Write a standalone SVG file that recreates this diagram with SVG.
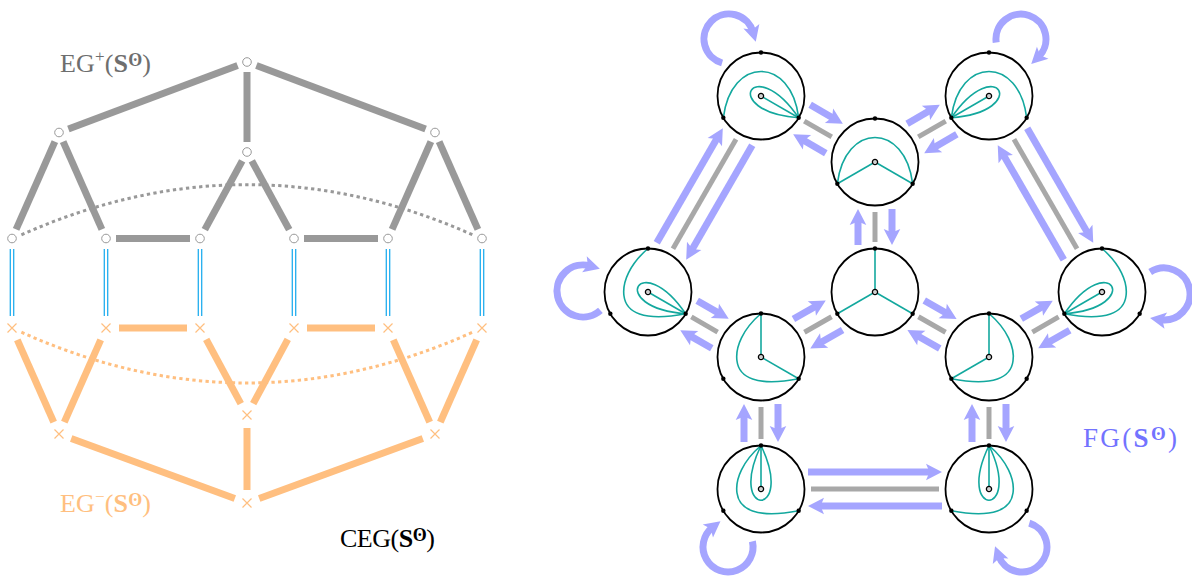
<svg xmlns="http://www.w3.org/2000/svg" width="1192" height="579" viewBox="0 0 1192 579">
<style>
.ge{stroke:#999;stroke-width:7;fill:none}
.oe{stroke:#FFBF80;stroke-width:7;fill:none}
.gd{stroke:#999;stroke-width:3;stroke-dasharray:3.3 3.3;fill:none}
.od{stroke:#FFBF80;stroke-width:3;stroke-dasharray:3.3 3.3;fill:none}
.dl{stroke:#22AEEF;stroke-width:1.3}
.on{fill:#fff;stroke:#999;stroke-width:1}
.xn{stroke:#FFBF80;stroke-width:1.2;fill:none}
.ring{fill:#fff;stroke:#000;stroke-width:1.8}
.tl{fill:none;stroke:#13A89E;stroke-width:1.6}
.pt{fill:#000}
.ctr{fill:#d0d0d0;stroke:#000;stroke-width:1.3}
.gr{stroke:#A8A8A8;stroke-width:5}
.bl{stroke:#A5A5FF;stroke-width:7;fill:none;marker-end:url(#ah)}
.lbl{font-family:"Liberation Serif","DejaVu Serif",serif;font-size:26px}
</style>
<defs>
<marker id="ah" markerUnits="userSpaceOnUse" markerWidth="30" markerHeight="30" refX="0" refY="0" orient="auto" overflow="visible">
<path d="M10,0 L-6,-8.3 L-2.5,0 L-6,8.3 Z" fill="#A5A5FF"/>
</marker>
<path id="arcTop" d="M-37.67,21.75 C-30,-40 30,-40 37.67,21.75" fill="none" stroke="#13A89E" stroke-width="1.6"/>
<path id="loop" d="M0,0 C73,-35 73,35 0,0" fill="none" stroke="#13A89E" stroke-width="1.6"/>
<path id="curveL" d="M0,-43.5 C-18,-28 -26,-10 -24,4 C-22,20 -5,30 37.67,21.75" fill="none" stroke="#13A89E" stroke-width="1.6"/>
<path id="curveR" d="M0,-43.5 C18,-28 26,-10 24,4 C22,20 5,30 -37.67,21.75" fill="none" stroke="#13A89E" stroke-width="1.6"/>
<path id="segT" d="M0,0 L0,-43.5" fill="none" stroke="#13A89E" stroke-width="1.6"/>
<path id="segLL" d="M0,0 L-37.67,21.75" fill="none" stroke="#13A89E" stroke-width="1.6"/>
<path id="segLR" d="M0,0 L37.67,21.75" fill="none" stroke="#13A89E" stroke-width="1.6"/>
<g id="pts">
<circle cx="0" cy="-43.5" r="2.2" fill="#000"/>
<circle cx="-37.67" cy="21.75" r="2.2" fill="#000"/>
<circle cx="37.67" cy="21.75" r="2.2" fill="#000"/>
</g>
<path id="cross" d="M-4.5,-4.5 L4.5,4.5 M-4.5,4.5 L4.5,-4.5" fill="none" stroke="#FFBF80" stroke-width="1.2"/>
</defs>

<!-- ===== Left: CEG connectors ===== -->
<g id="ceg-connectors">
<path class="gd" d="M21.4,234.8 Q247,134.5 472.6,234.8"/>
<path class="od" d="M21.4,332.2 Q247,433.7 472.6,332.2"/>
<line class="ge" x1="237.6" y1="65.5" x2="68.4" y2="129"/>
<line class="ge" x1="256.4" y1="65.5" x2="425.6" y2="129"/>
<line class="ge" x1="247" y1="72" x2="247" y2="142"/>
<line class="ge" x1="54.9" y1="141.6" x2="16.1" y2="229.4"/>
<line class="ge" x1="63.1" y1="141.6" x2="101.9" y2="229.4"/>
<line class="ge" x1="242.2" y1="160.8" x2="204.8" y2="229.7"/>
<line class="ge" x1="251.8" y1="160.8" x2="289.2" y2="229.7"/>
<line class="ge" x1="430.9" y1="141.6" x2="392.1" y2="229.4"/>
<line class="ge" x1="439.1" y1="141.6" x2="477.9" y2="229.4"/>
<line class="ge" x1="116" y1="238.5" x2="190" y2="238.5"/>
<line class="ge" x1="304" y1="238.5" x2="378" y2="238.5"/>
<line class="oe" x1="17.3" y1="339.9" x2="53.7" y2="422.1"/>
<line class="oe" x1="100.7" y1="339.9" x2="64.3" y2="422.1"/>
<line class="oe" x1="206.2" y1="339.4" x2="240.8" y2="403.6"/>
<line class="oe" x1="287.8" y1="339.4" x2="253.2" y2="403.6"/>
<line class="oe" x1="393.3" y1="339.9" x2="429.7" y2="422.1"/>
<line class="oe" x1="476.7" y1="339.9" x2="440.3" y2="422.1"/>
<line class="oe" x1="119" y1="328" x2="187" y2="328"/>
<line class="oe" x1="307" y1="328" x2="375" y2="328"/>
<line class="oe" x1="71.2" y1="438.5" x2="234.8" y2="498.5"/>
<line class="oe" x1="422.8" y1="438.5" x2="259.2" y2="498.5"/>
<line class="oe" x1="247" y1="428" x2="247" y2="490"/>
<g id="double-lines">
<line class="dl" x1="10.3" y1="249" x2="10.3" y2="316"/><line class="dl" x1="13.7" y1="249" x2="13.7" y2="316"/>
<line class="dl" x1="104.3" y1="249" x2="104.3" y2="316"/><line class="dl" x1="107.7" y1="249" x2="107.7" y2="316"/>
<line class="dl" x1="198.3" y1="249" x2="198.3" y2="316"/><line class="dl" x1="201.7" y1="249" x2="201.7" y2="316"/>
<line class="dl" x1="292.3" y1="249" x2="292.3" y2="316"/><line class="dl" x1="295.7" y1="249" x2="295.7" y2="316"/>
<line class="dl" x1="386.3" y1="249" x2="386.3" y2="316"/><line class="dl" x1="389.7" y1="249" x2="389.7" y2="316"/>
<line class="dl" x1="480.3" y1="249" x2="480.3" y2="316"/><line class="dl" x1="483.7" y1="249" x2="483.7" y2="316"/>
</g>
</g>

<!-- ===== Left: nodes ===== -->
<g id="eg-plus-nodes">
<g id="p0"><circle class="on" cx="247" cy="62" r="4.3"/></g>
<g id="p1"><circle class="on" cx="59" cy="132.5" r="4.3"/></g>
<g id="p2"><circle class="on" cx="247" cy="152" r="4.3"/></g>
<g id="p3"><circle class="on" cx="435" cy="132.5" r="4.3"/></g>
<g id="p4"><circle class="on" cx="12" cy="238.5" r="4.3"/></g>
<g id="p5"><circle class="on" cx="106" cy="238.5" r="4.3"/></g>
<g id="p6"><circle class="on" cx="200" cy="238.5" r="4.3"/></g>
<g id="p7"><circle class="on" cx="294" cy="238.5" r="4.3"/></g>
<g id="p8"><circle class="on" cx="388" cy="238.5" r="4.3"/></g>
<g id="p9"><circle class="on" cx="482" cy="238.5" r="4.3"/></g>
</g>
<g id="eg-minus-nodes">
<g id="m0"><use href="#cross" transform="translate(12,328)"/></g>
<g id="m1"><use href="#cross" transform="translate(106,328)"/></g>
<g id="m2"><use href="#cross" transform="translate(200,328)"/></g>
<g id="m3"><use href="#cross" transform="translate(294,328)"/></g>
<g id="m4"><use href="#cross" transform="translate(388,328)"/></g>
<g id="m5"><use href="#cross" transform="translate(482,328)"/></g>
<g id="m6"><use href="#cross" transform="translate(59,434)"/></g>
<g id="m7"><use href="#cross" transform="translate(247,415)"/></g>
<g id="m8"><use href="#cross" transform="translate(435,434)"/></g>
<g id="m9"><use href="#cross" transform="translate(247,503)"/></g>
</g>

<!-- ===== Labels ===== -->
<g id="labels">
<text class="lbl" x="60" y="72" fill="#6e6e6e" textLength="91" lengthAdjust="spacing">EG<tspan font-size="17" dy="-10">+</tspan><tspan dy="10">(</tspan><tspan font-weight="bold">S</tspan><tspan font-size="18" font-weight="bold" dy="-6">ʘ</tspan><tspan dy="6">)</tspan></text>
<text class="lbl" x="60" y="512" fill="#FFBF80" textLength="91" lengthAdjust="spacing">EG<tspan font-size="17" dy="-10">−</tspan><tspan dy="10">(</tspan><tspan font-weight="bold">S</tspan><tspan font-size="18" font-weight="bold" dy="-6">ʘ</tspan><tspan dy="6">)</tspan></text>
<text class="lbl" x="340" y="547" fill="#000" textLength="95" lengthAdjust="spacing">CEG(<tspan font-weight="bold">S</tspan><tspan font-size="18" font-weight="bold" dy="-6">ʘ</tspan><tspan dy="6">)</tspan></text>
<text class="lbl" x="1083" y="447" fill="#7373FF" style="font-size:27px" textLength="94" lengthAdjust="spacing">FG(<tspan font-weight="bold">S</tspan><tspan font-size="19" font-weight="bold" dy="-7">ʘ</tspan><tspan dy="7">)</tspan></text>
</g>

<!-- ===== Right: FG connectors ===== -->
<g id="fg-connectors">
<g transform="translate(818,129) rotate(30.07)"><line class="gr" x1="-15.87" y1="0" x2="15.87" y2="0"/><line class="bl" x1="-18.87" y1="-17" x2="8.87" y2="-17"/><line class="bl" x1="18.87" y1="17" x2="-8.87" y2="17"/></g>
<g transform="translate(932,129) rotate(-30.07)"><line class="gr" x1="-15.87" y1="0" x2="15.87" y2="0"/><line class="bl" x1="-18.87" y1="-17" x2="8.87" y2="-17"/><line class="bl" x1="18.87" y1="17" x2="-8.87" y2="17"/></g>
<g transform="translate(704.5,194) rotate(-60.03)"><line class="gr" x1="-63.12" y1="0" x2="63.12" y2="0"/><line class="bl" x1="-66.12" y1="-17" x2="56.12" y2="-17"/><line class="bl" x1="66.12" y1="17" x2="-56.12" y2="17"/></g>
<g transform="translate(1045.5,194) rotate(60.03)"><line class="gr" x1="-63.12" y1="0" x2="63.12" y2="0"/><line class="bl" x1="-66.12" y1="-17" x2="56.12" y2="-17"/><line class="bl" x1="66.12" y1="17" x2="-56.12" y2="17"/></g>
<g transform="translate(875,227) rotate(90)"><line class="gr" x1="-15" y1="0" x2="15" y2="0"/><line class="bl" x1="-18" y1="-17" x2="8" y2="-17"/><line class="bl" x1="18" y1="17" x2="-8" y2="17"/></g>
<g transform="translate(704.5,324.5) rotate(29.91)"><line class="gr" x1="-15.18" y1="0" x2="15.18" y2="0"/><line class="bl" x1="-18.18" y1="-17" x2="8.18" y2="-17"/><line class="bl" x1="18.18" y1="17" x2="-8.18" y2="17"/></g>
<g transform="translate(818,324.5) rotate(-29.69)"><line class="gr" x1="-15.62" y1="0" x2="15.62" y2="0"/><line class="bl" x1="-18.62" y1="-17" x2="8.62" y2="-17"/><line class="bl" x1="18.62" y1="17" x2="-8.62" y2="17"/></g>
<g transform="translate(932,324.5) rotate(29.69)"><line class="gr" x1="-15.62" y1="0" x2="15.62" y2="0"/><line class="bl" x1="-18.62" y1="-17" x2="8.62" y2="-17"/><line class="bl" x1="18.62" y1="17" x2="-8.62" y2="17"/></g>
<g transform="translate(1045.5,324.5) rotate(-29.91)"><line class="gr" x1="-15.18" y1="0" x2="15.18" y2="0"/><line class="bl" x1="-18.18" y1="-17" x2="8.18" y2="-17"/><line class="bl" x1="18.18" y1="17" x2="-8.18" y2="17"/></g>
<g transform="translate(761,423) rotate(90)"><line class="gr" x1="-16" y1="0" x2="16" y2="0"/><line class="bl" x1="-19" y1="-17" x2="9" y2="-17"/><line class="bl" x1="19" y1="17" x2="-9" y2="17"/></g>
<g transform="translate(989,423) rotate(90)"><line class="gr" x1="-16" y1="0" x2="16" y2="0"/><line class="bl" x1="-19" y1="-17" x2="9" y2="-17"/><line class="bl" x1="19" y1="17" x2="-9" y2="17"/></g>
<g transform="translate(875,489)"><line class="gr" x1="-64" y1="0" x2="64" y2="0"/><line class="bl" x1="-67" y1="-17" x2="57" y2="-17"/><line class="bl" x1="67" y1="17" x2="-57" y2="17"/></g>
<path class="bl" d="M722.1,63 A25,25 0 1 1 753,32.1"/>
<path class="bl" d="M996.2,42.5 A25,25 0 1 1 1038.4,57"/>
<path class="bl" d="M600.4,310.3 A26,26 0 1 1 590.2,266"/>
<path class="bl" d="M1150.2,272 A26,26 0 1 1 1159.9,319.7"/>
<path class="bl" d="M752.4,541.4 A25,25 0 1 1 712.6,527.3"/>
<path class="bl" d="M1029.3,523.1 A25,25 0 1 1 998.5,555.6"/>
</g>

<!-- ===== Right: FG nodes ===== -->
<g id="fA" transform="translate(761,96)"><circle class="ring" r="43.5"/><use href="#arcTop"/><use href="#loop" transform="translate(37.67,21.75) rotate(210)"/><use href="#segLR"/><use href="#pts"/><circle class="ctr" r="2.6"/></g>
<g id="fB" transform="translate(875,162)"><circle class="ring" r="43.5"/><use href="#arcTop"/><use href="#segLL"/><use href="#segLR"/><use href="#pts"/><circle class="ctr" r="2.6"/></g>
<g id="fC" transform="translate(989,96)"><circle class="ring" r="43.5"/><use href="#arcTop"/><use href="#loop" transform="translate(-37.67,21.75) rotate(-30)"/><use href="#segLL"/><use href="#pts"/><circle class="ctr" r="2.6"/></g>
<g id="fD" transform="translate(648,292)"><circle class="ring" r="43.5"/><use href="#curveL"/><use href="#loop" transform="translate(37.67,21.75) rotate(210)"/><use href="#segLR"/><use href="#pts"/><circle class="ctr" r="2.6"/></g>
<g id="fE" transform="translate(875,292)"><circle class="ring" r="43.5"/><use href="#segT"/><use href="#segLL"/><use href="#segLR"/><use href="#pts"/><circle class="ctr" r="2.6"/></g>
<g id="fF" transform="translate(1102,292)"><circle class="ring" r="43.5"/><use href="#curveR"/><use href="#loop" transform="translate(-37.67,21.75) rotate(-30)"/><use href="#segLL"/><use href="#pts"/><circle class="ctr" r="2.6"/></g>
<g id="fG" transform="translate(761,357)"><circle class="ring" r="43.5"/><use href="#curveL"/><use href="#segT"/><use href="#segLR"/><use href="#pts"/><circle class="ctr" r="2.6"/></g>
<g id="fH" transform="translate(989,357)"><circle class="ring" r="43.5"/><use href="#curveR"/><use href="#segT"/><use href="#segLL"/><use href="#pts"/><circle class="ctr" r="2.6"/></g>
<g id="fI" transform="translate(761,489)"><circle class="ring" r="43.5"/><use href="#curveL"/><use href="#loop" transform="translate(0,-43.5) rotate(90)"/><use href="#segT"/><use href="#pts"/><circle class="ctr" r="2.6"/></g>
<g id="fJ" transform="translate(989,489)"><circle class="ring" r="43.5"/><use href="#curveR"/><use href="#loop" transform="translate(0,-43.5) rotate(90)"/><use href="#segT"/><use href="#pts"/><circle class="ctr" r="2.6"/></g>
</svg>
